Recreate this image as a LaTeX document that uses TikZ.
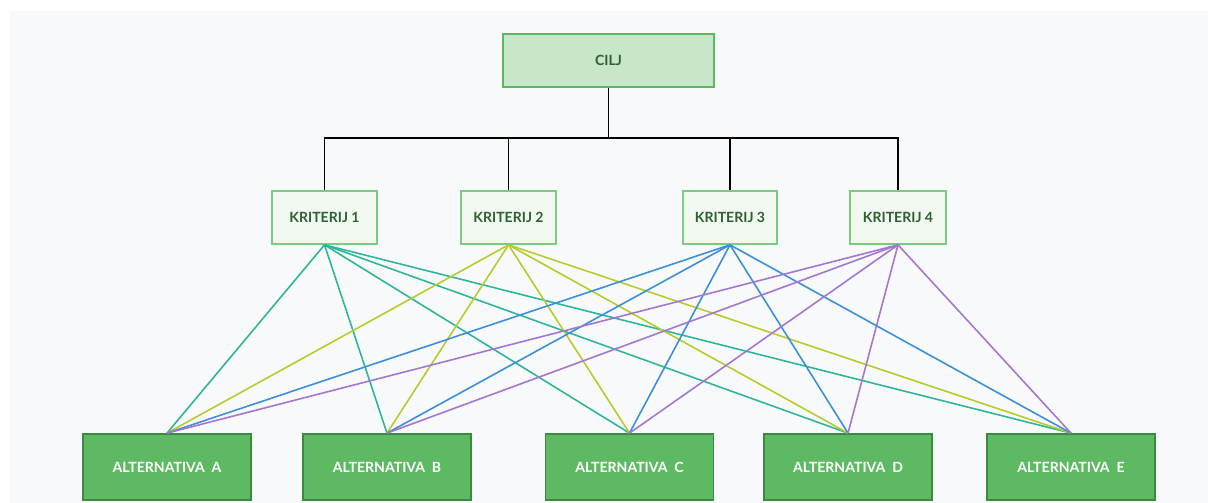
\documentclass[tikz,border=0pt]{standalone}
\usepackage{fontspec}
\setmainfont{Lato}
\usepackage{tikz}
\usepackage{xcolor}

\definecolor{bgcol}{HTML}{F8F9FA}
\definecolor{ciljfill}{HTML}{C8E6C9}
\definecolor{ciljdraw}{HTML}{5CB860}
\definecolor{kritfill}{HTML}{F0F8F0}
\definecolor{kritdraw}{HTML}{7DCB80}
\definecolor{altfill}{HTML}{5EBA62}
\definecolor{altdraw}{HTML}{3B8A3F}
\definecolor{txtgreen}{HTML}{2F5F32}
\definecolor{kone}{HTML}{2DB59B}
\definecolor{ktwo}{HTML}{B7CB2B}
\definecolor{kthree}{HTML}{3B8FDA}
\definecolor{kfour}{HTML}{A276D1}

\begin{document}
\begin{tikzpicture}[x=0.02cm,y=-0.02cm]
\tikzstyle{every node}+=[font=\fontsize{8}{10}\selectfont\bfseries]
\tikzstyle{cilj}=[draw=ciljdraw,fill=ciljfill,line width=1pt,text=txtgreen,minimum width=4.22cm,minimum height=1.06cm]
\tikzstyle{krit}=[draw=kritdraw,fill=kritfill,line width=1pt,text=txtgreen,minimum height=1.06cm]
\tikzstyle{alt}=[draw=altdraw,fill=altfill,line width=1pt,text=white,minimum width=3.36cm,minimum height=1.32cm]
\tikzstyle{tree}=[black,line width=1.1pt]
\tikzstyle{link}=[line width=0.9pt]
\useasboundingbox (0,0) rectangle (1208,503);
\fill [bgcol] (10,11) rectangle (1208,503);
% goal
\node [cilj] (cilj) at (608.5,60.5) {CILJ};
% criteria
\node [krit,minimum width=2.1cm] (k1) at (324.5,217.5) {KRITERIJ 1};
\node [krit,minimum width=1.9cm] (k2) at (508.5,217.5) {KRITERIJ 2};
\node [krit,minimum width=1.88cm] (k3) at (730,217.5) {KRITERIJ 3};
\node [krit,minimum width=1.92cm] (k4) at (898,217.5) {KRITERIJ 4};
% alternatives
\node [alt] (a) at (167,467) {ALTERNATIVA\ \ A};
\node [alt] (b) at (387,467) {ALTERNATIVA\ \ B};
\node [alt] (c) at (629.5,467) {ALTERNATIVA\ \ C};
\node [alt] (d) at (848,467) {ALTERNATIVA\ \ D};
\node [alt] (e) at (1071,467) {ALTERNATIVA\ \ E};
% tree
\coordinate (bus) at (608.5,138);
\draw [tree] (cilj.south) -- (bus);
\draw [tree] (k1.north) |- (bus) -| (k4.north);
\draw [tree] (k2.north) -- (k2.north |- bus);
\draw [tree] (k3.north) -- (k3.north |- bus);
% links
\foreach \k/\col in {k1/kone,k2/ktwo,k3/kthree,k4/kfour}
  \foreach \alt in {a,b,c,d,e}
    \draw [link,\col] (\k.south) -- (\alt.north);
\end{tikzpicture}
\end{document}
